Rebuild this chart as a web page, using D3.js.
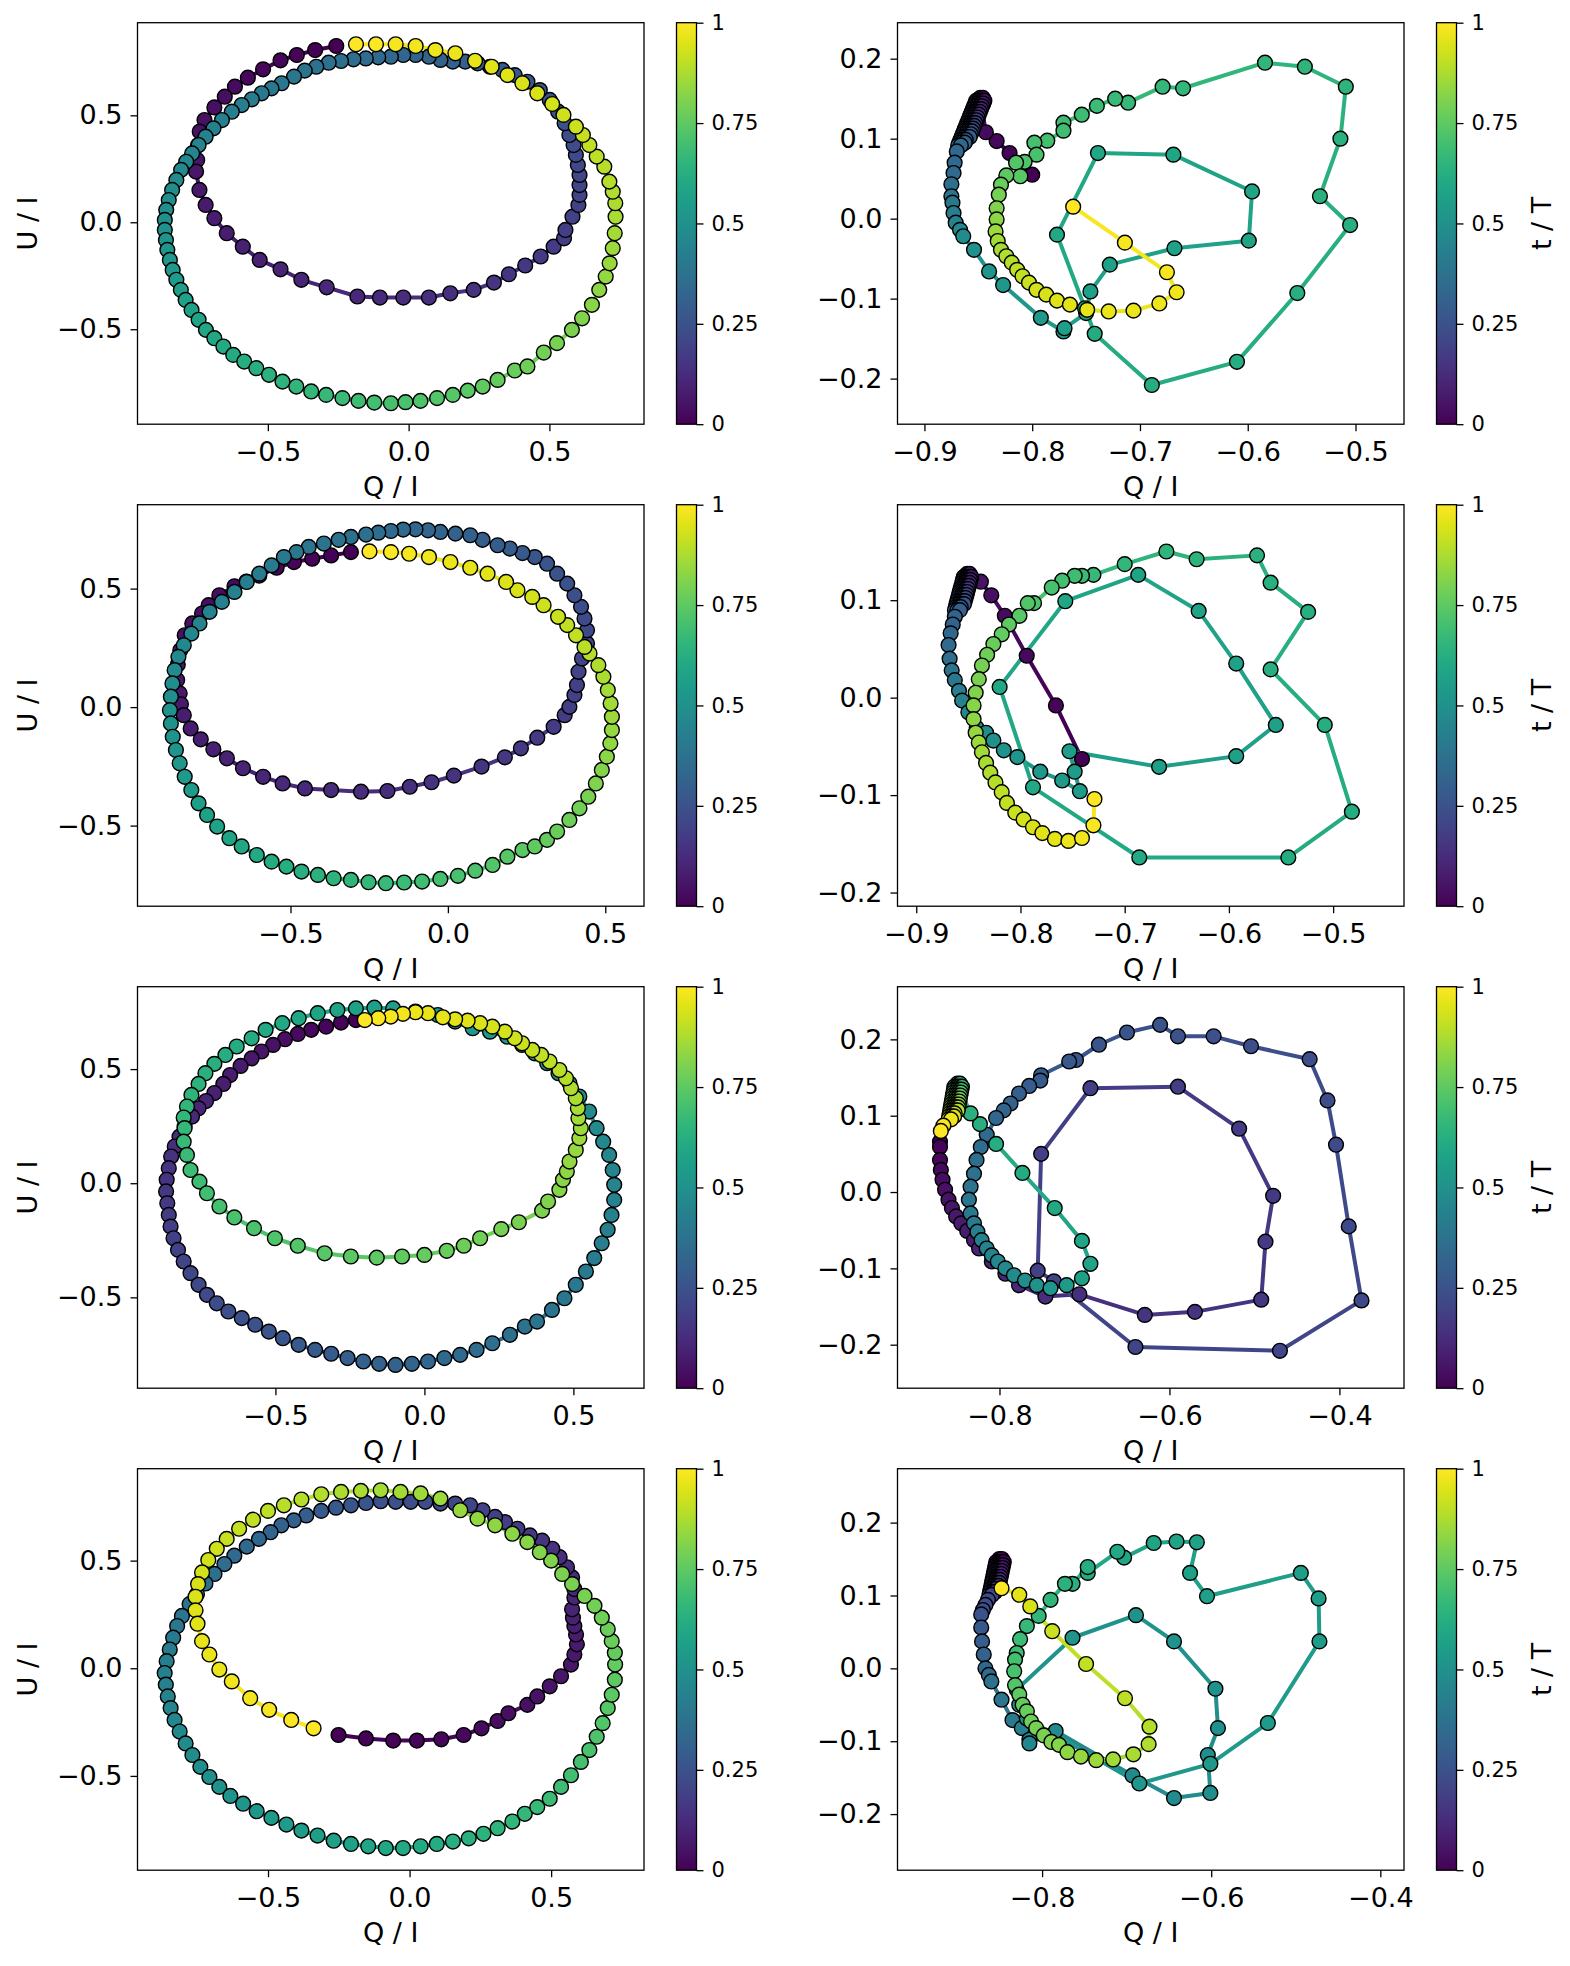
<!DOCTYPE html>
<html>
<head>
<meta charset="utf-8">
<script src="https://cdn.jsdelivr.net/npm/d3@7"></script>
<style>
  body { margin: 0; background: #fff; }
  text { font-family: "DejaVu Sans", sans-serif; }
</style>
</head>
<body>
<script>
// Each trajectory: [Q/I, U/I, t/T] in time order

// row 1, left
var traj1 = [
 [-0.257,0.824,0],[-0.332,0.805,.005],[-0.397,0.782,.009],[-0.455,0.757,.014],[-0.517,0.715,.018],[-0.571,0.676,.023],[-0.617,0.634,.028],[-0.653,0.587,.032],[-0.690,0.537,.037],[-0.725,0.478,.042],[-0.742,0.424,.046],[-0.748,0.36,.051],[-0.751,0.291,.055],[-0.755,0.237,.06],
 [-0.743,0.151,.065],[-0.721,0.081,.071],[-0.690,0.019,.076],[-0.646,-0.051,.082],[-0.589,-0.114,.088],[-0.529,-0.176,.093],[-0.455,-0.220,.099],[-0.381,-0.269,.104],[-0.291,-0.304,.11],[-0.182,-0.347,.116],[-0.102,-0.352,.121],[-0.019,-0.352,.127],[0.072,-0.352,.133],[0.148,-0.332,.138],[0.231,-0.316,.144],[0.303,-0.282,.149],[0.356,-0.243,.155],[0.414,-0.202,.161],[0.469,-0.160,.166],[0.515,-0.114,.172],[0.552,-0.075,.178],[0.557,-0.036,.183],[0.582,0.026,.189],[0.603,0.081,.194],[0.607,0.128,.2],
 [0.607,0.174,.205],[0.607,0.221,.211],[0.601,0.268,.218],[0.594,0.315,.224],[0.586,0.361,.23],[0.571,0.408,.236],[0.554,0.463,.243],[0.531,0.517,.249],[0.501,0.572,.255],[0.466,0.618,.262],[0.422,0.657,.268],[0.377,0.688,.274],[0.333,0.712,.28],[0.289,0.727,.287],[0.245,0.743,.293],[0.201,0.751,.299],[0.157,0.751,.305],[0.113,0.759,.312],[0.072,0.774,.318],[0.025,0.782,.324],[-0.019,0.782,.331],[-0.063,0.774,.337],[-0.108,0.771,.343],[-0.152,0.766,.349],[-0.196,0.762,.356],[-0.240,0.754,.362],[-0.284,0.746,.368],[-0.328,0.727,.374],[-0.369,0.709,.381],[-0.407,0.681,.387],[-0.451,0.650,.393],[-0.487,0.626,.4],[-0.522,0.603,.406],[-0.557,0.575,.412],[-0.593,0.548,.418],[-0.628,0.517,.425],[-0.663,0.478,.431],[-0.693,0.439,.437],[-0.721,0.400,.443],[-0.746,0.361,.45],[-0.769,0.322,.456],[-0.790,0.283,.462],[-0.808,0.245,.469],[-0.825,0.198,.475],[-0.840,0.151,.481],[-0.852,0.104,.487],[-0.861,0.058,.494],[-0.866,0.011,.5],
 [-0.866,-0.036,.505],[-0.862,-0.083,.513],[-0.857,-0.129,.522],[-0.848,-0.176,.53],[-0.838,-0.223,.538],[-0.825,-0.269,.546],[-0.809,-0.316,.555],[-0.792,-0.363,.563],[-0.771,-0.410,.571],[-0.746,-0.456,.58],[-0.720,-0.503,.588],[-0.690,-0.542,.596],[-0.658,-0.581,.605],[-0.623,-0.620,.613],[-0.584,-0.651,.621],[-0.541,-0.682,.63],[-0.496,-0.713,.638],[-0.448,-0.745,.646],[-0.399,-0.768,.654],[-0.346,-0.791,.663],[-0.293,-0.807,.671],[-0.235,-0.822,.679],[-0.178,-0.835,.688],[-0.122,-0.843,.696],[-0.063,-0.846,.704],[-0.011,-0.841,.713],[0.042,-0.835,.721],[0.101,-0.822,.729],[0.157,-0.807,.738],[0.210,-0.787,.746],[0.263,-0.768,.754],[0.316,-0.737,.762],[0.377,-0.693,.771],[0.422,-0.674,.779],[0.480,-0.609,.787],[0.527,-0.565,.796],[0.580,-0.503,.804],[0.616,-0.449,.812],[0.651,-0.386,.821],[0.677,-0.316,.829],[0.700,-0.254,.837],[0.714,-0.192,.846],[0.725,-0.121,.854],[0.732,-0.051,.862],[0.735,0.026,.87],
 [0.734,0.089,.875],[0.725,0.143,.881],[0.713,0.190,.888],[0.695,0.260,.894],[0.668,0.307,.9],[0.642,0.361,.906],[0.619,0.408,.913],[0.594,0.447,.919],[0.550,0.502,.925],[0.510,0.553,.931],[0.457,0.603,.938],[0.404,0.650,.944],[0.351,0.688,.95],[0.295,0.727,.956],[0.236,0.755,.963],[0.166,0.790,.969],[0.095,0.805,.975],[0.025,0.824,.981],[-0.046,0.832,.988],[-0.116,0.832,.994],[-0.187,0.832,1]
];

// row 1, right
var traj2 = [
 [-0.800,0.055,0],[-0.821,0.082,.01],[-0.833,0.097,.02],[-0.843,0.108,.03],
 [-0.8483,0.151,.04],[-0.8458,0.151,.04],
 [-0.8519,0.1475,.057],[-0.8494,0.1475,.057],[-0.8469,0.1475,.057],[-0.8444,0.1475,.057],
 [-0.8529,0.144,.074],[-0.8504,0.144,.074],[-0.8479,0.144,.074],[-0.8454,0.144,.074],
 [-0.8540,0.1405,.091],[-0.8515,0.1405,.091],[-0.8490,0.1405,.091],[-0.8465,0.1405,.091],
 [-0.8550,0.137,.108],[-0.8525,0.137,.108],[-0.8500,0.137,.108],[-0.8475,0.137,.108],
 [-0.8561,0.1335,.125],[-0.8536,0.1335,.125],[-0.8511,0.1335,.125],[-0.8486,0.1335,.125],
 [-0.8571,0.130,.142],[-0.8546,0.130,.142],[-0.8521,0.130,.142],[-0.8496,0.130,.142],
 [-0.8582,0.1265,.159],[-0.8557,0.1265,.159],[-0.8532,0.1265,.159],[-0.8507,0.1265,.159],
 [-0.8592,0.123,.176],[-0.8567,0.123,.176],[-0.8542,0.123,.176],[-0.8517,0.123,.176],
 [-0.8603,0.1195,.193],[-0.8578,0.1195,.193],[-0.8553,0.1195,.193],[-0.8528,0.1195,.193],
 [-0.8613,0.116,.210],[-0.8588,0.116,.210],[-0.8563,0.116,.210],[-0.8538,0.116,.210],
 [-0.8624,0.1125,.227],[-0.8599,0.1125,.227],[-0.8574,0.1125,.227],[-0.8549,0.1125,.227],
 [-0.8634,0.109,.244],[-0.8609,0.109,.244],[-0.8584,0.109,.244],[-0.8559,0.109,.244],
 [-0.8645,0.1055,.261],[-0.8620,0.1055,.261],[-0.8595,0.1055,.261],[-0.8570,0.1055,.261],
 [-0.8655,0.102,.278],[-0.8630,0.102,.278],[-0.8605,0.102,.278],[-0.8580,0.102,.278],
 [-0.8666,0.0985,.295],[-0.8641,0.0985,.295],[-0.8616,0.0985,.295],
 [-0.8676,0.095,.312],[-0.8651,0.095,.312],[-0.8626,0.095,.312],
 [-0.8687,0.0915,.33],[-0.8662,0.0915,.33],
 [-0.870,0.084,.333],[-0.872,0.070,.336],
 [-0.873,0.057,.34],[-0.875,0.043,.36],[-0.875,0.028,.38],[-0.874,0.020,.40],[-0.873,0.007,.42],[-0.871,-0.005,.44],[-0.867,-0.014,.46],[-0.864,-0.022,.48],[-0.854,-0.039,.50],[-0.840,-0.066,.52],[-0.827,-0.083,.53],[-0.792,-0.124,.54],[-0.771,-0.141,.55],[-0.770,-0.137,.555],
 [-0.750,-0.118,.56],[-0.746,-0.091,.565],[-0.728,-0.0575,.57],[-0.668,-0.037,.575],[-0.599,-0.0275,.58],[-0.596,0.034,.585],[-0.669,0.080,.59],[-0.739,0.082,.595],[-0.777,-0.020,.60],[-0.751,-0.112,.605],[-0.742,-0.144,.61],[-0.689,-0.208,.615],[-0.610,-0.179,.62],[-0.554,-0.093,.625],[-0.505,-0.008,.63],[-0.533,0.028,.635],[-0.514,0.100,.64],[-0.509,0.165,.645],[-0.547,0.190,.65],[-0.584,0.195,.655],[-0.660,0.163,.66],[-0.679,0.165,.665],[-0.711,0.145,.67],[-0.723,0.150,.675],[-0.740,0.141,.68],[-0.754,0.130,.685],[-0.771,0.120,.69],[-0.771,0.110,.695],[-0.786,0.0975,.70],[-0.798,0.095,.705],[-0.796,0.080,.71],[-0.807,0.071,.72],[-0.815,0.070,.73],[-0.811,0.053,.74],[-0.824,0.054,.75],
 [-0.829,0.0425,.77],[-0.831,0.030,.79],[-0.833,0.013,.81],[-0.833,-0.001,.83],[-0.834,-0.016,.85],[-0.832,-0.028,.86],[-0.829,-0.039,.87],[-0.824,-0.047,.88],[-0.819,-0.055,.89],[-0.814,-0.064,.90],[-0.809,-0.072,.91],[-0.803,-0.080,.92],[-0.796,-0.089,.93],[-0.787,-0.095,.94],[-0.777,-0.1025,.95],[-0.765,-0.1075,.955],[-0.749,-0.114,.96],[-0.729,-0.116,.965],[-0.706,-0.115,.97],[-0.682,-0.106,.975],[-0.666,-0.092,.98],[-0.675,-0.067,.985],[-0.714,-0.030,.99],[-0.762,0.015,1]
];

// row 2, left
var traj3 = [
 [-0.308,0.654,0],[-0.371,0.640,.004],[-0.431,0.626,.008],[-0.489,0.612,.012],[-0.544,0.588,.016],[-0.599,0.555,.021],[-0.640,0.530,.025],[-0.678,0.510,.029],[-0.726,0.472,.033],[-0.760,0.430,.037],[-0.781,0.395,.041],[-0.812,0.353,.045],[-0.836,0.303,.049],[-0.850,0.240,.054],[-0.858,0.180,.058],[-0.860,0.114,.062],[-0.852,0.058,.066],[-0.848,0.012,.07],
 [-0.839,-0.034,.075],[-0.817,-0.090,.08],[-0.785,-0.136,.085],[-0.745,-0.178,.091],[-0.702,-0.216,.096],[-0.651,-0.258,.101],[-0.587,-0.294,.106],[-0.525,-0.322,.111],[-0.454,-0.343,.117],[-0.371,-0.350,.122],[-0.276,-0.357,.127],[-0.192,-0.354,.132],[-0.121,-0.336,.137],[-0.052,-0.317,.143],[0.019,-0.289,.148],[0.107,-0.251,.153],[0.181,-0.212,.158],[0.232,-0.174,.163],[0.284,-0.129,.169],[0.336,-0.083,.174],[0.371,-0.034,.179],[0.386,0.001,.184],[0.402,0.051,.189],[0.410,0.093,.195],[0.415,0.149,.2],
 [0.426,0.205,.205],[0.442,0.268,.212],[0.442,0.324,.219],[0.434,0.374,.226],[0.423,0.423,.233],[0.402,0.472,.24],[0.379,0.521,.247],[0.347,0.563,.254],[0.315,0.605,.261],[0.276,0.633,.268],[0.237,0.650,.275],[0.197,0.669,.282],[0.158,0.683,.289],[0.110,0.706,.296],[0.071,0.725,.303],[0.024,0.732,.31],[-0.024,0.739,.317],[-0.063,0.746,.324],[-0.103,0.750,.331],[-0.142,0.749,.338],[-0.181,0.743,.345],[-0.221,0.736,.352],[-0.260,0.728,.359],[-0.308,0.718,.367],[-0.347,0.706,.374],[-0.394,0.690,.381],[-0.442,0.676,.388],[-0.481,0.654,.395],[-0.521,0.633,.402],[-0.560,0.598,.409],[-0.599,0.563,.416],[-0.639,0.528,.423],[-0.678,0.486,.43],[-0.718,0.444,.437],[-0.757,0.402,.444],[-0.789,0.353,.451],[-0.815,0.310,.458],[-0.839,0.261,.465],[-0.856,0.212,.472],[-0.868,0.156,.479],[-0.875,0.100,.486],[-0.880,0.044,.493],[-0.883,-0.013,.5],
 [-0.880,-0.069,.505],[-0.874,-0.125,.514],[-0.864,-0.181,.523],[-0.852,-0.237,.532],[-0.836,-0.294,.541],[-0.815,-0.350,.549],[-0.792,-0.406,.558],[-0.765,-0.455,.567],[-0.733,-0.504,.576],[-0.694,-0.553,.585],[-0.655,-0.588,.594],[-0.607,-0.624,.603],[-0.560,-0.652,.612],[-0.513,-0.673,.621],[-0.465,-0.694,.629],[-0.413,-0.708,.638],[-0.363,-0.722,.647],[-0.308,-0.729,.656],[-0.252,-0.739,.665],[-0.197,-0.743,.674],[-0.139,-0.740,.683],[-0.082,-0.736,.692],[-0.024,-0.725,.701],[0.032,-0.712,.709],[0.087,-0.690,.718],[0.142,-0.666,.727],[0.189,-0.631,.736],[0.237,-0.603,.745],[0.276,-0.588,.754],[0.315,-0.560,.763],[0.347,-0.525,.772],[0.386,-0.476,.781],[0.418,-0.427,.789],[0.446,-0.378,.798],[0.470,-0.322,.807],[0.489,-0.265,.816],[0.505,-0.209,.825],[0.516,-0.153,.834],[0.521,-0.097,.843],[0.521,-0.041,.852],[0.517,0.015,.86],
 [0.508,0.072,.865],[0.494,0.128,.873],[0.478,0.177,.88],[0.450,0.226,.888],[0.434,0.254,.895],[0.407,0.303,.903],[0.379,0.346,.91],[0.350,0.381,.918],[0.304,0.430,.925],[0.268,0.465,.933],[0.221,0.493,.94],[0.185,0.528,.948],[0.126,0.563,.955],[0.071,0.588,.963],[0.008,0.612,.97],[-0.060,0.633,.978],[-0.123,0.647,.985],[-0.181,0.654,.993],[-0.249,0.657,1]
];

// row 2, right
var traj4 = [
 [-0.741,-0.063,0],[-0.766,-0.008,.01],[-0.794,0.043,.02],[-0.815,0.084,.03],[-0.828,0.105,.04],[-0.838,0.119,.05],
 [-0.8512,0.127,.06],[-0.8488,0.127,.06],
 [-0.8544,0.1239,.08],[-0.8520,0.1239,.08],[-0.8496,0.1239,.08],[-0.8472,0.1239,.08],
 [-0.8552,0.1208,.10],[-0.8528,0.1208,.10],[-0.8504,0.1208,.10],[-0.8480,0.1208,.10],
 [-0.8559,0.1177,.12],[-0.8535,0.1177,.12],[-0.8511,0.1177,.12],[-0.8487,0.1177,.12],
 [-0.8567,0.1146,.14],[-0.8543,0.1146,.14],[-0.8519,0.1146,.14],[-0.8495,0.1146,.14],
 [-0.8575,0.1115,.16],[-0.8551,0.1115,.16],[-0.8527,0.1115,.16],[-0.8503,0.1115,.16],
 [-0.8583,0.1084,.18],[-0.8559,0.1084,.18],[-0.8535,0.1084,.18],[-0.8511,0.1084,.18],
 [-0.8590,0.1053,.20],[-0.8566,0.1053,.20],[-0.8542,0.1053,.20],[-0.8518,0.1053,.20],
 [-0.8598,0.1022,.22],[-0.8574,0.1022,.22],[-0.8550,0.1022,.22],[-0.8526,0.1022,.22],
 [-0.8606,0.0991,.24],[-0.8582,0.0991,.24],[-0.8558,0.0991,.24],[-0.8534,0.0991,.24],
 [-0.8614,0.096,.26],[-0.8590,0.096,.26],[-0.8566,0.096,.26],[-0.8542,0.096,.26],
 [-0.8621,0.0929,.28],[-0.8597,0.0929,.28],[-0.8573,0.0929,.28],
 [-0.8629,0.0898,.30],[-0.8605,0.0898,.30],[-0.8581,0.0898,.30],
 [-0.863,0.083,.31],[-0.865,0.075,.315],[-0.867,0.066,.325],
 [-0.869,0.054,.34],[-0.868,0.040,.36],[-0.866,0.028,.38],[-0.863,0.018,.40],[-0.859,0.007,.42],[-0.856,-0.003,.44],[-0.850,-0.015,.46],[-0.842,-0.031,.48],[-0.833,-0.036,.49],[-0.826,-0.044,.50],[-0.816,-0.054,.51],[-0.803,-0.061,.52],[-0.781,-0.076,.53],[-0.760,-0.085,.54],[-0.743,-0.096,.545],[-0.748,-0.076,.55],[-0.753,-0.055,.555],
 [-0.667,-0.071,.56],[-0.593,-0.060,.565],[-0.555,-0.028,.57],[-0.593,0.035,.575],[-0.629,0.089,.58],[-0.687,0.126,.585],[-0.757,0.099,.59],[-0.820,0.011,.595],[-0.788,-0.092,.60],[-0.686,-0.164,.605],[-0.543,-0.164,.61],[-0.482,-0.117,.615],[-0.508,-0.028,.62],[-0.560,0.029,.625],[-0.524,0.088,.63],[-0.560,0.118,.635],[-0.573,0.146,.64],[-0.631,0.142,.645],[-0.660,0.150,.65],[-0.700,0.137,.66],[-0.730,0.126,.67],[-0.741,0.125,.68],[-0.748,0.125,.69],[-0.760,0.120,.70],[-0.770,0.113,.71],[-0.787,0.097,.72],[-0.793,0.097,.73],[-0.801,0.084,.74],[-0.811,0.075,.75],[-0.818,0.065,.76],[-0.826,0.055,.77],[-0.832,0.044,.78],[-0.837,0.033,.79],[-0.840,0.019,.80],[-0.843,0.005,.81],[-0.845,-0.008,.82],[-0.845,-0.022,.83],[-0.843,-0.036,.84],[-0.840,-0.046,.85],[-0.837,-0.056,.86],[-0.833,-0.067,.87],[-0.829,-0.077,.88],[-0.824,-0.087,.89],[-0.818,-0.097,.90],[-0.813,-0.108,.91],[-0.805,-0.118,.92],[-0.797,-0.125,.93],[-0.788,-0.133,.94],[-0.779,-0.139,.95],[-0.767,-0.145,.96],[-0.754,-0.147,.97],[-0.741,-0.144,.98],[-0.730,-0.131,.99],[-0.729,-0.104,1]
];

// row 3, left
var traj5 = [
 [-0.230,0.715,0],[-0.280,0.704,.008],[-0.330,0.686,.015],[-0.380,0.672,.023],[-0.425,0.654,.03],[-0.468,0.631,.038],[-0.508,0.606,.045],[-0.547,0.577,.053],[-0.580,0.547,.06],[-0.617,0.514,.068],[-0.652,0.474,.075],[-0.675,0.435,.083],[-0.705,0.395,.09],[-0.733,0.360,.098],[-0.758,0.328,.105],[-0.780,0.292,.113],[-0.805,0.248,.12],[-0.822,0.204,.128],[-0.838,0.161,.135],[-0.850,0.117,.143],[-0.858,0.066,.15],
 [-0.865,0.015,.155],[-0.867,-0.036,.162],[-0.863,-0.088,.169],[-0.858,-0.139,.176],[-0.852,-0.190,.183],[-0.842,-0.241,.19],[-0.827,-0.292,.197],[-0.808,-0.343,.204],[-0.785,-0.394,.211],[-0.758,-0.445,.218],[-0.730,-0.489,.225],[-0.697,-0.526,.232],[-0.658,-0.562,.239],[-0.613,-0.591,.246],[-0.568,-0.620,.253],[-0.522,-0.650,.26],[-0.475,-0.679,.267],[-0.422,-0.708,.274],[-0.367,-0.730,.281],[-0.313,-0.747,.288],[-0.258,-0.766,.295],[-0.205,-0.781,.302],[-0.152,-0.791,.309],[-0.097,-0.796,.316],[-0.042,-0.791,.323],[0.012,-0.781,.33],[0.067,-0.766,.337],[0.120,-0.752,.344],[0.175,-0.730,.351],[0.228,-0.701,.358],[0.287,-0.664,.365],[0.337,-0.628,.372],[0.378,-0.606,.379],[0.428,-0.555,.386],[0.470,-0.504,.393],[0.508,-0.445,.4],[0.542,-0.387,.407],[0.570,-0.328,.414],[0.595,-0.263,.421],[0.615,-0.204,.428],[0.628,-0.139,.435],[0.637,-0.073,.442],[0.637,-0.007,.45],
 [0.632,0.058,.455],[0.620,0.124,.461],[0.600,0.182,.467],[0.578,0.241,.474],[0.553,0.314,.48],[0.520,0.380,.486],[0.487,0.438,.492],[0.450,0.482,.499],[0.412,0.526,.505],[0.370,0.569,.511],[0.328,0.606,.517],[0.278,0.642,.523],[0.220,0.664,.53],[0.162,0.679,.536],[0.103,0.708,.542],[0.045,0.737,.548],[-0.030,0.752,.554],[-0.105,0.766,.561],[-0.168,0.769,.567],[-0.230,0.766,.573],[-0.292,0.759,.579],[-0.358,0.745,.585],[-0.422,0.723,.592],[-0.477,0.701,.598],[-0.533,0.672,.604],[-0.580,0.635,.61],[-0.630,0.599,.616],[-0.668,0.562,.623],[-0.705,0.523,.629],[-0.735,0.482,.635],[-0.758,0.435,.641],[-0.782,0.387,.648],[-0.797,0.336,.654],[-0.808,0.288,.66],
 [-0.805,0.241,.665],[-0.808,0.182,.672],[-0.797,0.124,.678],[-0.785,0.058,.685],[-0.755,0.007,.691],[-0.730,-0.044,.698],[-0.688,-0.102,.705],[-0.638,-0.150,.711],[-0.572,-0.197,.718],[-0.502,-0.241,.724],[-0.425,-0.274,.731],[-0.335,-0.307,.738],[-0.247,-0.321,.744],[-0.160,-0.326,.751],[-0.075,-0.321,.757],[0.000,-0.314,.764],[0.075,-0.296,.771],[0.132,-0.274,.777],[0.187,-0.241,.784],[0.258,-0.201,.79],[0.317,-0.171,.797],[0.395,-0.120,.804],[0.415,-0.080,.81],[0.453,-0.029,.817],[0.465,0.015,.823],[0.478,0.051,.83],[0.487,0.095,.837],[0.508,0.146,.843],[0.520,0.197,.85],
 [0.525,0.241,.855],[0.517,0.285,.861],[0.515,0.328,.868],[0.508,0.372,.874],[0.492,0.416,.88],[0.475,0.460,.887],[0.453,0.496,.893],[0.420,0.533,.899],[0.392,0.562,.905],[0.362,0.584,.912],[0.328,0.613,.918],[0.303,0.635,.924],[0.270,0.664,.931],[0.228,0.686,.937],[0.187,0.701,.943],[0.145,0.712,.95],[0.103,0.718,.956],[0.062,0.727,.962],[0.012,0.745,.968],[-0.030,0.749,.975],[-0.072,0.742,.981],[-0.113,0.730,.987],[-0.155,0.723,.994],[-0.200,0.715,1]
];

// row 3, right
var traj6 = [
 [-0.870,0.066,0],[-0.870,0.059,.008],[-0.870,0.042,.016],[-0.869,0.029,.024],[-0.867,0.016,.032],[-0.864,0.003,.04],[-0.860,-0.010,.048],[-0.856,-0.021,.056],[-0.851,-0.032,.064],[-0.845,-0.041,.072],[-0.838,-0.051,.08],[-0.830,-0.063,.088],[-0.824,-0.074,.096],[-0.809,-0.091,.104],[-0.793,-0.107,.112],[-0.777,-0.122,.12],[-0.746,-0.137,.13],[-0.706,-0.134,.14],
 [-0.629,-0.161,.15],[-0.570,-0.157,.155],[-0.492,-0.141,.16],[-0.487,-0.065,.165],[-0.478,-0.005,.17],[-0.518,0.083,.175],[-0.590,0.138,.18],[-0.693,0.136,.185],[-0.751,0.050,.19],[-0.755,-0.103,.195],[-0.736,-0.117,.20],
 [-0.640,-0.203,.205],[-0.470,-0.208,.21],[-0.374,-0.142,.215],[-0.389,-0.045,.22],[-0.404,0.062,.225],[-0.414,0.120,.23],[-0.435,0.174,.235],[-0.504,0.191,.24],[-0.548,0.204,.245],[-0.590,0.204,.25],[-0.611,0.219,.255],[-0.650,0.209,.26],[-0.683,0.193,.265],[-0.710,0.173,.27],[-0.718,0.171,.275],[-0.751,0.153,.28],[-0.752,0.146,.285],[-0.765,0.139,.29],[-0.777,0.129,.30],[-0.787,0.116,.31],[-0.795,0.107,.32],[-0.804,0.097,.33],
 [-0.815,0.075,.34],[-0.822,0.059,.35],[-0.827,0.042,.36],[-0.830,0.024,.37],[-0.834,0.007,.38],[-0.836,-0.010,.39],[-0.834,-0.028,.40],[-0.830,-0.041,.41],[-0.826,-0.052,.42],[-0.821,-0.063,.43],[-0.815,-0.074,.44],[-0.809,-0.083,.45],[-0.802,-0.091,.46],[-0.793,-0.100,.47],[-0.783,-0.109,.48],[-0.770,-0.116,.49],[-0.756,-0.122,.50],[-0.740,-0.126,.52],[-0.721,-0.122,.54],[-0.703,-0.113,.56],[-0.693,-0.094,.58],[-0.703,-0.064,.59],[-0.735,-0.021,.60],[-0.773,0.025,.61],[-0.804,0.063,.62],[-0.823,0.089,.63],[-0.834,0.103,.64],
 [-0.8495,0.142,.65],[-0.8465,0.142,.65],
 [-0.8530,0.1381,.677],[-0.8501,0.1381,.677],[-0.8471,0.1381,.677],[-0.8442,0.1381,.677],
 [-0.8536,0.1342,.704],[-0.8507,0.1342,.704],[-0.8477,0.1342,.704],[-0.8448,0.1342,.704],
 [-0.8543,0.1303,.731],[-0.8514,0.1303,.731],[-0.8484,0.1303,.731],[-0.8455,0.1303,.731],
 [-0.8549,0.1264,.758],[-0.8520,0.1264,.758],[-0.8490,0.1264,.758],[-0.8461,0.1264,.758],
 [-0.8555,0.1225,.785],[-0.8526,0.1225,.785],[-0.8496,0.1225,.785],[-0.8467,0.1225,.785],
 [-0.8561,0.1186,.812],[-0.8532,0.1186,.812],[-0.8502,0.1186,.812],[-0.8473,0.1186,.812],
 [-0.8568,0.1147,.839],[-0.8539,0.1147,.839],[-0.8509,0.1147,.839],[-0.8480,0.1147,.839],
 [-0.8574,0.1108,.866],[-0.8545,0.1108,.866],[-0.8515,0.1108,.866],[-0.8486,0.1108,.866],
 [-0.8580,0.1069,.893],[-0.8551,0.1069,.893],[-0.8521,0.1069,.893],[-0.8492,0.1069,.893],
 [-0.8586,0.1030,.92],[-0.8557,0.1030,.92],[-0.8527,0.1030,.92],
 [-0.8593,0.0991,.947],[-0.8564,0.0991,.947],[-0.8534,0.0991,.947],
 [-0.8599,0.0952,.973],[-0.8570,0.0952,.973],
 [-0.866,0.087,.985],[-0.869,0.080,1]
];

// row 4, left
var traj7 = [
 [-0.251,-0.310,0],[-0.154,-0.326,.005],[-0.058,-0.336,.009],[0.026,-0.336,.014],[0.112,-0.330,.019],[0.191,-0.310,.023],[0.254,-0.279,.028],[0.311,-0.245,.033],[0.349,-0.209,.037],[0.416,-0.170,.042],[0.451,-0.131,.047],[0.495,-0.084,.051],[0.535,-0.037,.056],[0.570,0.017,.061],[0.582,0.064,.065],[0.591,0.111,.07],
 [0.588,0.157,.075],[0.582,0.196,.083],[0.577,0.235,.091],[0.574,0.274,.099],[0.582,0.329,.107],[0.582,0.368,.115],[0.574,0.422,.123],[0.556,0.469,.131],[0.530,0.516,.14],[0.504,0.555,.148],[0.468,0.593,.156],[0.425,0.617,.164],[0.381,0.648,.172],[0.337,0.679,.18],[0.302,0.703,.188],[0.258,0.734,.196],[0.214,0.757,.204],[0.161,0.765,.212],[0.109,0.765,.22],[0.056,0.773,.228],[0.004,0.773,.236],[-0.049,0.773,.244],[-0.102,0.776,.252],[-0.154,0.768,.261],[-0.207,0.757,.269],[-0.260,0.746,.277],[-0.312,0.731,.285],[-0.365,0.710,.293],[-0.409,0.687,.301],[-0.453,0.664,.309],[-0.491,0.632,.317],[-0.532,0.601,.325],[-0.575,0.565,.333],[-0.619,0.523,.341],[-0.654,0.484,.349],[-0.689,0.438,.357],[-0.721,0.394,.365],[-0.751,0.344,.373],[-0.777,0.298,.381],[-0.804,0.243,.39],[-0.821,0.196,.398],[-0.835,0.142,.406],[-0.847,0.087,.414],[-0.858,0.033,.422],[-0.865,-0.022,.43],
 [-0.861,-0.076,.435],[-0.854,-0.131,.443],[-0.844,-0.185,.451],[-0.830,-0.240,.459],[-0.812,-0.294,.467],[-0.791,-0.349,.475],[-0.767,-0.403,.483],[-0.739,-0.458,.491],[-0.707,-0.505,.498],[-0.672,-0.551,.506],[-0.633,-0.593,.514],[-0.588,-0.629,.522],[-0.540,-0.664,.53],[-0.488,-0.695,.538],[-0.435,-0.726,.546],[-0.382,-0.754,.554],[-0.325,-0.777,.562],[-0.268,-0.801,.57],[-0.207,-0.816,.578],[-0.146,-0.827,.586],[-0.084,-0.835,.594],[-0.023,-0.835,.602],[0.039,-0.827,.609],[0.096,-0.816,.617],[0.153,-0.805,.625],[0.209,-0.790,.633],[0.261,-0.769,.641],[0.311,-0.743,.649],[0.363,-0.712,.657],[0.407,-0.676,.665],[0.451,-0.645,.673],[0.495,-0.606,.681],[0.535,-0.551,.689],[0.570,-0.497,.697],[0.605,-0.435,.705],[0.635,-0.380,.713],[0.661,-0.318,.72],[0.682,-0.255,.728],[0.700,-0.185,.736],[0.714,-0.123,.744],[0.725,-0.053,.752],[0.726,0.017,.76],
 [0.725,0.072,.765],[0.714,0.126,.771],[0.700,0.181,.776],[0.679,0.235,.782],[0.653,0.290,.787],[0.618,0.336,.793],[0.574,0.391,.799],[0.539,0.438,.804],[0.500,0.500,.81],[0.460,0.539,.816],[0.416,0.586,.821],[0.363,0.625,.827],[0.302,0.664,.832],[0.240,0.695,.838],[0.179,0.734,.844],[0.109,0.788,.849],[0.039,0.812,.855],[-0.032,0.819,.86],[-0.102,0.827,.866],[-0.172,0.824,.872],[-0.242,0.819,.877],[-0.312,0.808,.883],[-0.382,0.784,.888],[-0.444,0.757,.894],[-0.500,0.731,.9],[-0.553,0.690,.905],[-0.602,0.648,.911],[-0.646,0.601,.916],[-0.681,0.555,.922],[-0.711,0.503,.928],[-0.733,0.445,.933],[-0.747,0.391,.939],[-0.756,0.332,.944],[-0.756,0.269,.95],[-0.749,0.207,.956],[-0.733,0.126,.961],[-0.707,0.064,.967],[-0.672,-0.006,.972],[-0.628,-0.061,.978],[-0.563,-0.139,.984],[-0.496,-0.193,.989],[-0.418,-0.240,.995],[-0.339,-0.279,1]
];

// row 4, right
var traj8 = [
 [-0.8505,0.150,0],[-0.8475,0.150,0],
 [-0.8541,0.1459,.018],[-0.8512,0.1459,.018],[-0.8482,0.1459,.018],[-0.8453,0.1459,.018],
 [-0.8549,0.1418,.036],[-0.8520,0.1418,.036],[-0.8490,0.1418,.036],[-0.8461,0.1418,.036],
 [-0.8556,0.1377,.054],[-0.8527,0.1377,.054],[-0.8497,0.1377,.054],[-0.8468,0.1377,.054],
 [-0.8564,0.1336,.072],[-0.8535,0.1336,.072],[-0.8505,0.1336,.072],[-0.8476,0.1336,.072],
 [-0.8571,0.1295,.09],[-0.8542,0.1295,.09],[-0.8512,0.1295,.09],[-0.8483,0.1295,.09],
 [-0.8578,0.1254,.108],[-0.8549,0.1254,.108],[-0.8519,0.1254,.108],[-0.8490,0.1254,.108],
 [-0.8586,0.1213,.126],[-0.8557,0.1213,.126],[-0.8527,0.1213,.126],[-0.8498,0.1213,.126],
 [-0.8593,0.1172,.144],[-0.8564,0.1172,.144],[-0.8534,0.1172,.144],[-0.8505,0.1172,.144],
 [-0.8600,0.1131,.162],[-0.8571,0.1131,.162],[-0.8541,0.1131,.162],[-0.8512,0.1131,.162],
 [-0.8608,0.1090,.18],[-0.8579,0.1090,.18],[-0.8549,0.1090,.18],
 [-0.8615,0.1049,.198],[-0.8586,0.1049,.198],[-0.8556,0.1049,.198],
 [-0.8623,0.1008,.216],[-0.8594,0.1008,.216],
 [-0.864,0.094,.225],[-0.867,0.087,.232],[-0.870,0.080,.24],
 [-0.872,0.074,.25],[-0.872,0.056,.27],[-0.871,0.037,.29],[-0.869,0.019,.31],[-0.867,0.000,.33],[-0.863,-0.009,.35],[-0.860,-0.018,.37],[-0.848,-0.043,.39],[-0.835,-0.071,.41],[-0.824,-0.082,.43],[-0.815,-0.098,.45],[-0.815,-0.103,.46],[-0.784,-0.086,.47],
 [-0.693,-0.147,.475],[-0.644,-0.178,.48],[-0.601,-0.171,.485],[-0.604,-0.119,.49],[-0.592,-0.082,.495],[-0.595,-0.028,.50],[-0.644,0.037,.505],[-0.689,0.073,.51],[-0.764,0.042,.515],[-0.830,-0.029,.52],[-0.827,-0.050,.525],[-0.818,-0.069,.53],[-0.685,-0.158,.535],[-0.601,-0.131,.54],[-0.533,-0.075,.545],[-0.472,0.037,.55],[-0.473,0.096,.555],[-0.494,0.131,.56],[-0.605,0.099,.565],[-0.625,0.131,.57],[-0.617,0.173,.575],[-0.641,0.174,.58],[-0.668,0.172,.585],[-0.703,0.152,.59],[-0.711,0.160,.60],[-0.746,0.131,.61],[-0.746,0.139,.62],[-0.764,0.116,.63],[-0.773,0.116,.64],[-0.790,0.094,.65],[-0.804,0.072,.66],[-0.818,0.058,.67],[-0.826,0.040,.68],[-0.830,0.021,.69],[-0.832,0.012,.70],[-0.833,-0.004,.71],[-0.832,-0.023,.73],[-0.827,-0.036,.75],[-0.823,-0.050,.76],[-0.818,-0.059,.77],[-0.813,-0.073,.78],[-0.807,-0.082,.79],[-0.798,-0.092,.80],[-0.789,-0.101,.81],[-0.780,-0.105,.82],[-0.770,-0.115,.83],[-0.754,-0.121,.84],[-0.736,-0.126,.85],[-0.716,-0.125,.86],[-0.692,-0.118,.87],[-0.674,-0.104,.88],[-0.673,-0.080,.89],[-0.702,-0.041,.90],[-0.748,0.006,.91],[-0.788,0.051,.92],[-0.814,0.085,.94],[-0.827,0.101,.96],[-0.848,0.110,1]
];

// tick values
var stokesTicks = [-0.5, 0, 0.5];
var qTicksA = [-0.9, -0.8, -0.7, -0.6, -0.5];
var qTicksB = [-0.8, -0.6, -0.4];
var uTicksR = [-0.2, -0.1, 0, 0.1, 0.2];
var cbTicks = [0, 0.25, 0.5, 0.75, 1];
var cbTickLabels = ["0", "0.25", "0.5", "0.75", "1"];

var panels = [
  {data: traj1, row: 0, col: 0, xDom: [-0.963, 0.836], yDom: [-0.944, 0.933], xt: stokesTicks, yt: stokesTicks},
  {data: traj2, row: 0, col: 1, xDom: [-0.925, -0.455], yDom: [-0.257, 0.245], xt: qTicksA, yt: uTicksR},
  {data: traj3, row: 1, col: 0, xDom: [-0.986, 0.623], yDom: [-0.840, 0.854], xt: stokesTicks, yt: stokesTicks},
  {data: traj4, row: 1, col: 1, xDom: [-0.918, -0.432], yDom: [-0.214, 0.198], xt: qTicksA, yt: uTicksR},
  {data: traj5, row: 2, col: 0, xDom: [-0.963, 0.737], yDom: [-0.898, 0.861], xt: stokesTicks, yt: stokesTicks},
  {data: traj6, row: 2, col: 1, xDom: [-0.920, -0.324], yDom: [-0.257, 0.269], xt: qTicksB, yt: uTicksR},
  {data: traj7, row: 3, col: 0, xDom: [-0.961, 0.828], yDom: [-0.938, 0.927], xt: stokesTicks, yt: stokesTicks},
  {data: traj8, row: 3, col: 1, xDom: [-0.971, -0.372], yDom: [-0.277, 0.274], xt: qTicksB, yt: uTicksR}
];

var W = 1570, H = 1966;
var axW = 506.5, axH = 401.5;
var fs = 27, cbFs = 21;
var viridis = d3.interpolateViridis;
var fmt = d3.format(".1f");

var svg = d3.select("body").append("svg")
    .attr("width", W)
    .attr("height", H);

var grad = svg.append("defs").append("linearGradient")
    .attr("id", "vir")
    .attr("x1", 0).attr("y1", 1).attr("x2", 0).attr("y2", 0);
d3.range(0, 1.0001, 0.05).forEach(function(s) {
    grad.append("stop").attr("offset", s).attr("stop-color", viridis(s));
});

function styleAxis(g, size) {
    g.select(".domain").remove();
    g.selectAll("line").attr("stroke", "#000").attr("stroke-width", 1.3);
    g.selectAll("text")
        .attr("fill", "#000")
        .style("font-size", size + "px")
        .style("font-family", "'DejaVu Sans', sans-serif");
}

panels.forEach(function(p) {
    var left = p.col === 0 ? 137.5 : 897.5;
    var top = 22.7 + 482 * p.row;

    var x = d3.scaleLinear().domain(p.xDom).range([0, axW]);
    var y = d3.scaleLinear().domain(p.yDom).range([axH, 0]);

    var g = svg.append("g").attr("transform", "translate(" + left + "," + top + ")");

    // coloured path segments under the markers
    g.append("g").selectAll("line")
        .data(d3.pairs(p.data))
        .join("line")
        .attr("x1", function(d) { return x(d[0][0]); })
        .attr("y1", function(d) { return y(d[0][1]); })
        .attr("x2", function(d) { return x(d[1][0]); })
        .attr("y2", function(d) { return y(d[1][1]); })
        .attr("stroke", function(d) { return viridis(d[0][2]); })
        .attr("stroke-width", 4)
        .attr("stroke-linecap", "round");

    g.append("g").selectAll("circle")
        .data(p.data)
        .join("circle")
        .attr("cx", function(d) { return x(d[0]); })
        .attr("cy", function(d) { return y(d[1]); })
        .attr("r", 7.4)
        .attr("fill", function(d) { return viridis(d[2]); })
        .attr("stroke", "#000")
        .attr("stroke-width", 1.4);

    g.append("rect")
        .attr("width", axW).attr("height", axH)
        .attr("fill", "none")
        .attr("stroke", "#000")
        .attr("stroke-width", 1.3);

    var xt = p.xt.filter(function(v) { return v >= p.xDom[0] && v <= p.xDom[1]; });
    var yt = p.yt.filter(function(v) { return v >= p.yDom[0] && v <= p.yDom[1]; });

    var xa = g.append("g")
        .attr("transform", "translate(0," + axH + ")")
        .call(d3.axisBottom(x).tickValues(xt).tickFormat(fmt).tickSize(7).tickPadding(11));
    styleAxis(xa, fs);

    var ya = g.append("g")
        .call(d3.axisLeft(y).tickValues(yt).tickFormat(fmt).tickSize(7).tickPadding(8));
    styleAxis(ya, fs);

    g.append("text")
        .attr("x", axW / 2)
        .attr("y", axH + 72)
        .attr("text-anchor", "middle")
        .style("font-size", fs + "px")
        .text("Q / I");

    if (p.col === 0) {
        svg.append("text")
            .attr("transform", "translate(37," + (top + axH / 2) + ") rotate(-90)")
            .attr("text-anchor", "middle")
            .style("font-size", fs + "px")
            .text("U / I");
    }

    // colour bar
    var cbLeft = left + axW + 32.5;
    var cb = svg.append("g").attr("transform", "translate(" + cbLeft + "," + top + ")");
    cb.append("rect")
        .attr("width", 20).attr("height", axH)
        .attr("fill", "url(#vir)")
        .attr("stroke", "#000")
        .attr("stroke-width", 1.3);
    var cbScale = d3.scaleLinear().domain([0, 1]).range([axH, 0]);
    var cba = cb.append("g")
        .attr("transform", "translate(20,0)")
        .call(d3.axisRight(cbScale).tickValues(cbTicks)
            .tickFormat(function(d, i) { return cbTickLabels[i]; })
            .tickSize(7).tickPadding(8));
    styleAxis(cba, cbFs);

    if (p.col === 1) {
        svg.append("text")
            .attr("transform", "translate(1551," + (top + axH / 2) + ") rotate(-90)")
            .attr("text-anchor", "middle")
            .style("font-size", fs + "px")
            .text("t / T");
    }
});
</script>
</body>
</html>
